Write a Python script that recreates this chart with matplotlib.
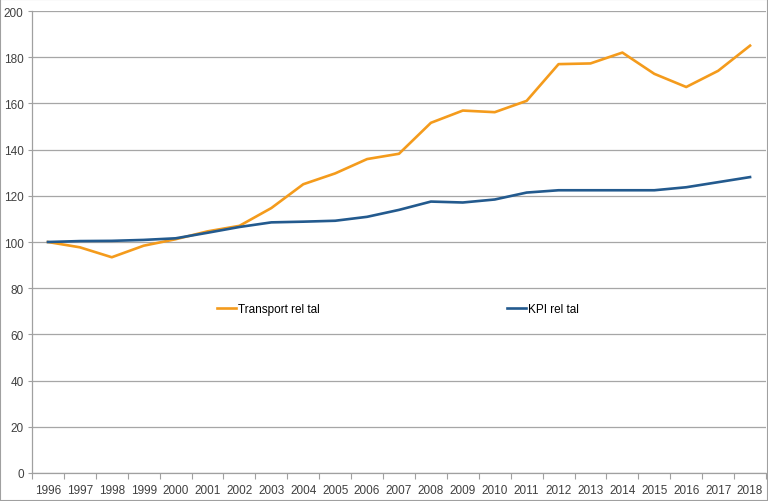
import matplotlib
matplotlib.use("Agg")
import matplotlib.pyplot as plt
from matplotlib.patches import Rectangle
import numpy as np

years = [str(y) for y in range(1996, 2019)]
transport = [100, 97.7, 93.4, 98.4, 101.2, 104.6, 107.0, 114.7, 125.0, 129.7, 135.9, 138.2,
             151.6, 156.9, 156.2, 161.1, 177.0, 177.3, 182.0, 172.8, 167.1, 174.1, 185.0]
kpi = [100, 100.4, 100.5, 100.9, 101.6, 104.0, 106.5, 108.5, 108.8, 109.2, 110.9, 113.9,
       117.5, 117.1, 118.4, 121.4, 122.4, 122.4, 122.4, 122.4, 123.7, 125.9, 128.1]
series_names = ["Transport rel tal", "KPI rel tal"]
yticks = list(range(0, 201, 20))

plt.rcParams['font.family'] = ['Liberation Sans', 'DejaVu Sans']

fig = plt.figure(figsize=(7.68, 5.02), dpi=100)
ax = fig.add_axes([32/768, 1-474/502, 734/768, 462/502])

x = np.arange(len(years))
l1, = ax.plot(x, transport, color='#F49B1C', lw=1.9, solid_joinstyle='round')
l2, = ax.plot(x, kpi, color='#235A8E', lw=1.9, solid_joinstyle='round')

ax.set_xlim(-0.5, len(years) - 0.5)
ax.set_ylim(0, 200)
ax.set_yticks(yticks)
ax.set_yticklabels([str(v) for v in yticks], fontsize=8.5, color='#404040')
ax.set_xticks(x)
ax.set_xticklabels(years, fontsize=8.5, color='#404040')
ax.set_xticks(np.arange(-0.5, len(years), 1), minor=True)
ax.tick_params(axis='x', which='major', length=0, pad=8)
ax.tick_params(axis='x', which='minor', length=4, color='#a0a0a0', width=0.8)
ax.tick_params(axis='y', length=3, color='#a0a0a0', width=0.8, pad=3)

ax.grid(axis='y', color='#a6a6a6', lw=0.9)
ax.set_axisbelow(True)
for s in ['top', 'right']:
    ax.spines[s].set_visible(False)
for s in ['left', 'bottom']:
    ax.spines[s].set_color('#a0a0a0')
    ax.spines[s].set_linewidth(0.9)

leg = fig.legend([l1, l2], series_names, loc='center', bbox_to_anchor=(398/768, 1-310/502),
                 ncol=2, frameon=False, fontsize=8.5, handlelength=1.6, handletextpad=0.2,
                 columnspacing=15.8)

fig.patches.append(Rectangle((0, 0), 1, 1, transform=fig.transFigure, fill=False,
                             edgecolor='#a0a0a0', lw=1.5))

fig.savefig('out.png', dpi=100)
